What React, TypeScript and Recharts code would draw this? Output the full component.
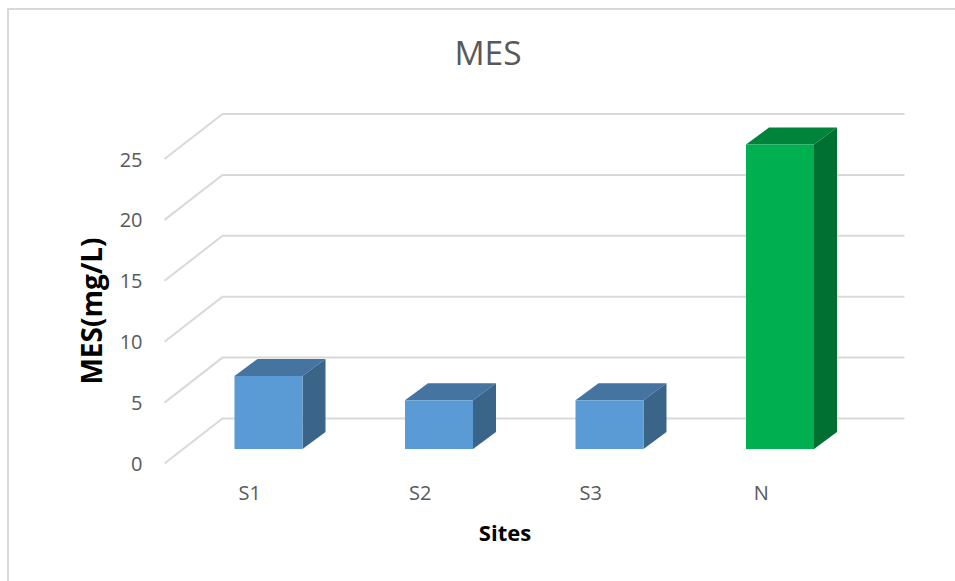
import { Bar, BarChart, CartesianGrid, XAxis, YAxis } from "recharts";

const sites = ["S1", "S2", "S3", "N"];
const mesValues = [6, 4, 4, 25];
const yTicks = [0, 5, 10, 15, 20, 25];
const frontColors = ["#5B9BD5", "#5B9BD5", "#5B9BD5", "#00B050"];
const topColors = ["#44749F", "#44749F", "#44749F", "#00843C"];
const sideColors = ["#3A6589", "#3A6589", "#3A6589", "#006F32"];

const chartData = sites.map((site, i) => ({ site, mes: mesValues[i], idx: i }));

const FONT = '"Open Sans", sans-serif';
const DEPTH_X = 23;
const DEPTH_Y = 17;

// Excel-style 3D column: front face plus top and side
function Column3D(props: any) {
  const { x, y, width, height, payload } = props;
  const i = payload.idx;
  const r = x + width;
  const b = y + height;
  return (
    <g>
      <polygon
        points={`${x},${y} ${x + DEPTH_X},${y - DEPTH_Y} ${r + DEPTH_X},${y - DEPTH_Y} ${r},${y}`}
        fill={topColors[i]}
      />
      <polygon
        points={`${r},${y} ${r + DEPTH_X},${y - DEPTH_Y} ${r + DEPTH_X},${b - DEPTH_Y} ${r},${b}`}
        fill={sideColors[i]}
      />
      <rect x={x} y={y} width={width} height={height} fill={frontColors[i]} />
    </g>
  );
}

// floor/wall gridline: diagonal on the side wall, then flat along the back wall
function WallLine(props: any) {
  const { x1, x2, y1 } = props;
  return (
    <path
      d={`M${x1 - 19},${y1 + 14.5} L${x1 + 39},${y1 - 30.5} L${x2 + 39},${y1 - 30.5}`}
      fill="none"
      stroke="#D9D9D9"
      strokeWidth={2}
    />
  );
}

function YTick(props: any) {
  const { x, y, payload } = props;
  return (
    <text x={x - 33} y={y + 22} textAnchor="end" fontFamily={FONT} fontSize={20} fill="#595959">
      {payload.value}
    </text>
  );
}

function XTick(props: any) {
  const { x, y, payload } = props;
  return (
    <text x={x - 19} y={y + 43} textAnchor="middle" fontFamily={FONT} fontSize={20} fill="#595959">
      {payload.value}
    </text>
  );
}

export default function App() {
  return (
    <div style={{ position: "absolute", left: 0, top: 0, width: 955, height: 581, background: "#fff", overflow: "hidden" }}>
      <div
        style={{
          position: "absolute",
          left: 7,
          top: 8,
          width: 960,
          height: 600,
          borderLeft: "2px solid #D9D9D9",
          borderTop: "2px solid #D9D9D9",
        }}
      />
      <div style={{ position: "absolute", left: 0, top: 0 }}>
        <BarChart
          width={955}
          height={581}
          data={chartData}
          margin={{ top: 144.5, right: 89.5, bottom: 72, left: 123.5 }}
        >
          <CartesianGrid vertical={false} horizontal={WallLine} />
          <XAxis dataKey="site" height={60} axisLine={false} tickLine={false} tick={XTick} interval={0} />
          <YAxis width={60} domain={[0, 25]} ticks={yTicks} axisLine={false} tickLine={false} tick={YTick} />
          <Bar dataKey="mes" barSize={68} shape={Column3D} isAnimationActive={false} />
          <text x={488} y={65} textAnchor="middle" fontFamily={FONT} fontSize={33.5} fill="#595959">
            MES
          </text>
          <text
            x={0}
            y={0}
            transform="translate(102,311) rotate(-90)"
            textAnchor="middle"
            fontFamily={FONT}
            fontSize={28}
            fontWeight={700}
            fill="#000"
          >
            MES(mg/L)
          </text>
          <text x={505} y={541} textAnchor="middle" fontFamily={FONT} fontSize={22} fontWeight={700} fill="#000">
            Sites
          </text>
        </BarChart>
      </div>
    </div>
  );
}
